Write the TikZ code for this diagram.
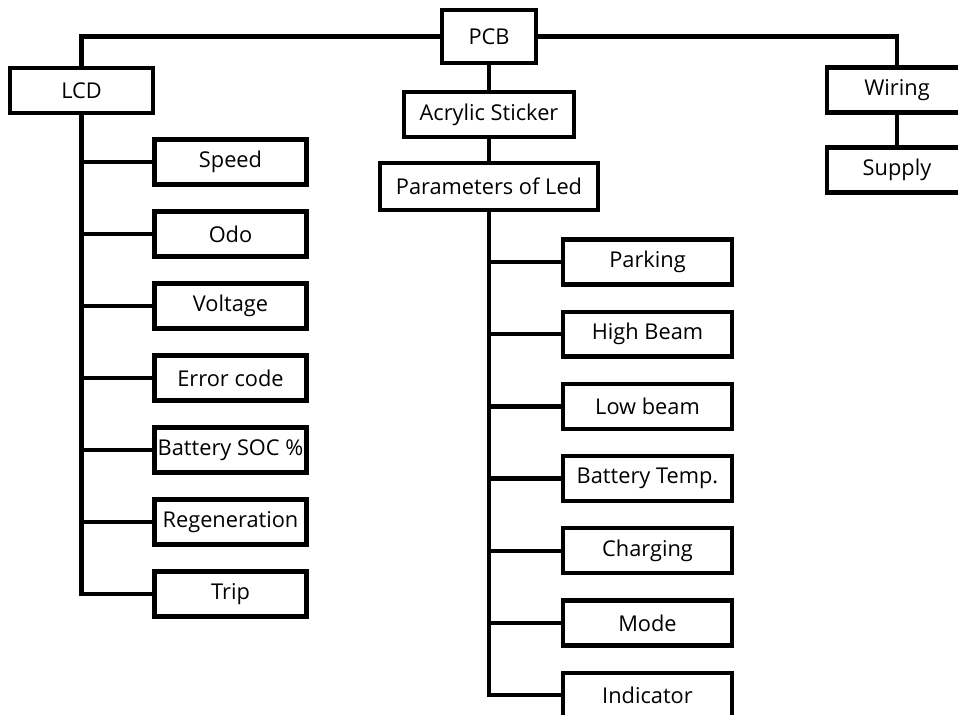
\documentclass[tikz,border=0pt]{standalone}
\usepackage{fontspec}
\setmainfont{Open Sans}
\usepackage{tikz}
\usetikzlibrary{positioning,calc}

\begin{document}
\begin{tikzpicture}[x=0.02cm,y=-0.02cm,
  box/.style={draw,line width=2.5pt,fill=white,inner sep=0pt,
    minimum height=0.9cm,font=\fontsize{12.4}{15}\selectfont},
  lcdkid/.style={box,minimum width=3.04cm},
  ledkid/.style={box,minimum width=3.38cm},
  link/.style={line width=2.5pt}]
\useasboundingbox (0,0) rectangle (958,715);
\clip (0,0) rectangle (958,715);
% top level
\node[box,minimum width=1.88cm,minimum height=1.06cm] (pcb) at (489,36.5) {PCB};
\node[box,minimum width=2.86cm] (lcd) at (81.5,90.5) {LCD};
\node[box,minimum width=3.4cm] (acr) at (489,114.5) {Acrylic Sticker};
\node[box,minimum width=4.36cm,minimum height=0.94cm] (par) at (489,186.5) {Parameters of Led};
\node[box,minimum width=2.8cm] (wir) at (897,90) {Wiring};
\node[box,minimum width=2.8cm] (sup) at (897,170) {Supply};
\draw[link] (lcd.north) |- (pcb.west);
\draw[link] (pcb.east) -| (wir.north);
\draw[link] (pcb) -- (acr);
\draw[link] (acr) -- (par);
\draw[link] (wir) -- (sup);
% LCD items
\foreach \n/\t [count=\i from 0] in {speed/Speed,odo/Odo,volt/Voltage,err/Error code,
    soc/Battery SOC \%,regen/Regeneration,trip/Trip}{
  \node[lcdkid] (\n) at (230.5,162+72*\i) {\t};
  \draw[link] (lcd.south |- \n.west) -- (\n.west);
}
\draw[link] (lcd.south) |- (trip.west);
% LED items
\foreach \n/\t [count=\i from 0] in {park/Parking,high/High Beam,low/Low beam,
    btemp/Battery Temp.,chg/Charging,mode/Mode,ind/Indicator}{
  \node[ledkid] (\n) at (647.5,262+72.2*\i) {\t};
  \draw[link] (par.south |- \n.west) -- (\n.west);
}
\draw[link] (par.south) |- (ind.west);
\end{tikzpicture}
\end{document}
